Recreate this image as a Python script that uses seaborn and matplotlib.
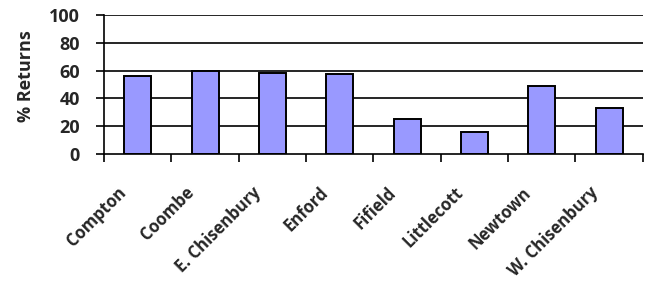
import matplotlib
matplotlib.use("Agg")
import matplotlib.pyplot as plt
import matplotlib.transforms as mtransforms
import numpy as np
import pandas as pd
import seaborn as sns

villages = ["Compton", "Coombe", "E. Chisenbury", "Enford", "Fifield",
            "Littlecott", "Newtown", "W. Chisenbury"]
returns = [56, 59.5, 58, 57.5, 25, 16, 49, 33]
y_ticks = [0, 20, 40, 60, 80, 100]

sns.set_style("white")
plt.rcParams["font.family"] = ["Open Sans", "DejaVu Sans"]
plt.rcParams["font.weight"] = "bold"

df = pd.DataFrame({"village": villages, "returns": returns})

fig = plt.figure(figsize=(6.5, 2.84), dpi=100)
ax = fig.add_axes([0.16, 0.458, 0.829, 0.489])

# gridlines behind the bars
for y in y_ticks[1:]:
    ax.axhline(y, color="black", linewidth=1.2, zorder=0)

sns.barplot(data=df, x="village", y="returns", color="#9999FF",
            width=0.4, edgecolor="black", linewidth=1.4, saturation=1,
            ax=ax, zorder=2)

ax.set_xlim(-0.5, len(villages) - 0.5)
ax.set_ylim(0, 100)
ax.set_yticks(y_ticks)
ax.set_yticklabels([str(t) for t in y_ticks], fontsize=13, fontweight="bold")
ax.set_ylabel("% Returns", fontsize=13, fontweight="bold")
ax.yaxis.set_label_coords(-0.128, 0.56)
ax.set_xlabel("")

# tick marks at category boundaries, labels at centres
ax.set_xticks(np.arange(len(villages) + 1) - 0.5, minor=False)
ax.set_xticklabels([])
ax.set_xticks(np.arange(len(villages)), minor=True)
ax.set_xticklabels(villages, minor=True, rotation=45, ha="right",
                   va="center", rotation_mode="anchor",
                   fontsize=12, fontweight="bold")
ax.tick_params(axis="x", which="major", direction="out", length=6,
               width=1.2, color="black", bottom=True)
ax.tick_params(axis="x", which="minor", length=0, pad=26)
ax.tick_params(axis="y", direction="out", length=6, width=1.2,
               color="black", left=True, pad=11.5)

offset = mtransforms.ScaledTranslation(-0.14, 0, fig.dpi_scale_trans)
for lbl in ax.get_xticklabels(minor=True):
    lbl.set_transform(lbl.get_transform() + offset)

for side in ["top", "right"]:
    ax.spines[side].set_visible(False)
for side in ["left", "bottom"]:
    ax.spines[side].set_color("black")
    ax.spines[side].set_linewidth(1.2)

fig.savefig("out.png", dpi=100)
